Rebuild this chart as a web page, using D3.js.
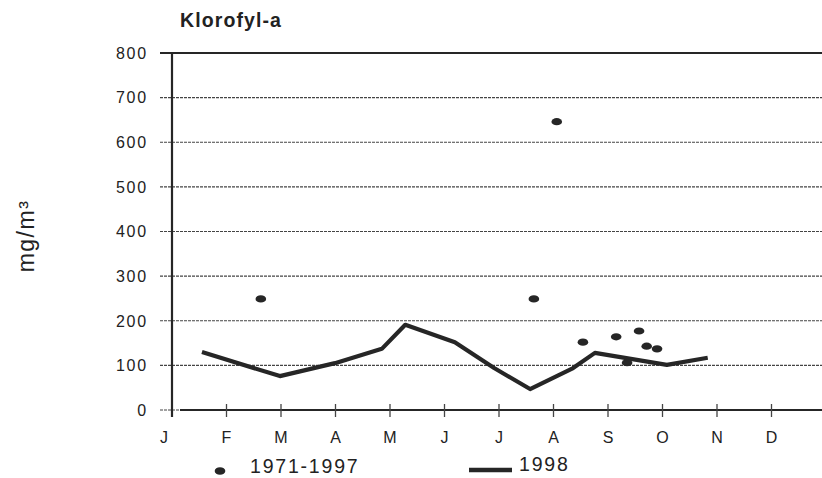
<!DOCTYPE html>
<html><head><meta charset="utf-8">
<script src="https://cdn.jsdelivr.net/npm/d3@7"></script>
<style>body{margin:0;background:#fff}svg{display:block}text{font-family:"Liberation Sans",Arial,sans-serif;fill:#222}</style>
</head><body><svg id="c" width="822" height="478"></svg>
<script>
// month position: 0 = start of January, 1 = start of February, ...
const monthLabels = ["J","F","M","A","M","J","J","A","S","O","N","D"];
const yTicks = [0,100,200,300,400,500,600,700,800];
const line1998Month = [0.55,1.98,2.99,3.85,4.28,5.19,5.91,6.57,7.36,7.76,9.08,9.83];
const line1998Value = [130,76,105,137,191,152,94,47,94,128,101,117];
const dotsMonth = [1.63,6.64,7.06,7.54,8.15,8.35,8.57,8.71,8.9];
const dotsValue = [249,249,646,152,164,106,177,143,137];

const svg = d3.select("#c");
const x = d3.scaleLinear().domain([0,12]).range([172,826]);
const y = d3.scaleLinear().domain([0,800]).range([410,53]);
const ink = "#262626";

// title
svg.append("text").attr("x",180).attr("y",27).attr("font-weight","bold").attr("font-size",19.5)
  .attr("letter-spacing",1.1).text("Klorofyl-a");
// y label
svg.append("text").attr("transform","translate(34,236) rotate(-90)").attr("text-anchor","middle")
  .attr("font-size",23).attr("letter-spacing",1.5).text("mg/m³");

// gridlines
svg.append("g").selectAll("line").data(yTicks.filter(d=>d>0&&d<800)).join("line")
  .attr("x1",160).attr("x2",822).attr("y1",d=>y(d)).attr("y2",d=>y(d))
  .attr("stroke","#444").attr("stroke-width",1.2).attr("stroke-dasharray","3,1");
// top line (bold)
svg.append("line").attr("x1",160).attr("x2",822).attr("y1",y(800)).attr("y2",y(800)).attr("stroke",ink).attr("stroke-width",2.2);
// zero line
svg.append("line").attr("x1",160).attr("x2",180).attr("y1",y(0)).attr("y2",y(0)).attr("stroke","#444").attr("stroke-width",1.2).attr("stroke-dasharray","3,1");
svg.append("line").attr("x1",180).attr("x2",822).attr("y1",y(0)).attr("y2",y(0)).attr("stroke",ink).attr("stroke-width",2);
// left axis
svg.append("line").attr("x1",x(0)).attr("x2",x(0)).attr("y1",y(800)).attr("y2",y(0)+7).attr("stroke",ink).attr("stroke-width",2.2);

// y tick labels
svg.append("g").selectAll("text").data(yTicks).join("text")
  .attr("x",148).attr("y",d=>y(d)).attr("dy","0.36em").attr("text-anchor","end")
  .attr("font-size",16).attr("letter-spacing",1.8).text(d=>d);

// month ticks
svg.append("g").selectAll("line").data(d3.range(1,12)).join("line")
  .attr("x1",d=>x(d)).attr("x2",d=>x(d)).attr("y1",y(0)-6).attr("y2",y(0)+7)
  .attr("stroke","#444").attr("stroke-width",1.3);
// month labels
svg.append("g").selectAll("text").data(monthLabels).join("text")
  .attr("x",(d,i)=>i===0?x(0)-8:x(i)).attr("y",443).attr("text-anchor","middle").attr("font-size",16).text(d=>d);

// 1998 line
const pts = line1998Month.map((m,i)=>[m,line1998Value[i]]);
svg.append("path").datum(pts).attr("fill","none").attr("stroke",ink).attr("stroke-width",4.2)
  .attr("stroke-linejoin","round").attr("d",d3.line().x(d=>x(d[0])).y(d=>y(d[1])));

// dots
svg.append("g").selectAll("ellipse").data(dotsMonth.map((m,i)=>[m,dotsValue[i]])).join("ellipse")
  .attr("cx",d=>x(d[0])).attr("cy",d=>y(d[1])).attr("rx",5.3).attr("ry",3.6).attr("fill",ink);

// legend
svg.append("ellipse").attr("cx",220).attr("cy",471).attr("rx",5.3).attr("ry",3.8).attr("fill",ink);
svg.append("text").attr("x",250).attr("y",473).attr("font-size",19.5).attr("letter-spacing",1.8).text("1971-1997");
svg.append("line").attr("x1",469).attr("x2",512).attr("y1",470).attr("y2",470).attr("stroke",ink).attr("stroke-width",4.5);
svg.append("text").attr("x",519).attr("y",471).attr("font-size",19.5).attr("letter-spacing",1.8).text("1998");
</script></body></html>
